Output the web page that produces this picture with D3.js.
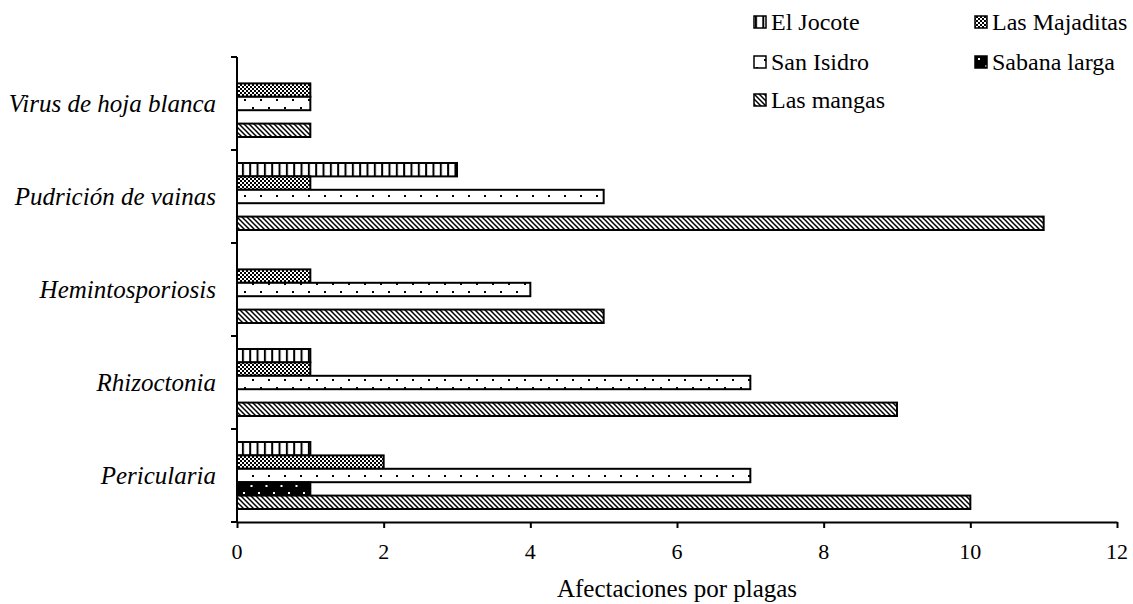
<!DOCTYPE html>
<html>
<head>
<meta charset="utf-8">
<script src="https://cdn.jsdelivr.net/npm/d3@7"></script>
<style>
  body { margin: 0; background: #fff; }
</style>
</head>
<body>
<svg id="chart" width="1133" height="604"></svg>
<script>
// categories from bottom to top, like the original
var categories = ["Pericularia", "Rhizoctonia", "Hemintosporiosis", "Pudrición de vainas", "Virus de hoja blanca"];
var seriesNames = ["El Jocote", "Las Majaditas", "San Isidro", "Sabana larga", "Las mangas"];
var elJocote     = [1, 1, 0, 3, 0];
var lasMajaditas = [2, 1, 1, 1, 1];
var sanIsidro    = [7, 7, 4, 5, 1];
var sabanaLarga  = [1, 0, 0, 0, 0];
var lasMangas    = [10, 9, 5, 11, 1];
var xTicks = [0, 2, 4, 6, 8, 10, 12];
var xTitle = "Afectaciones por plagas";

var seriesValues = [elJocote, lasMajaditas, sanIsidro, sabanaLarga, lasMangas];
var patternIds = ["p-vert", "p-check", "p-dots", "p-dark", "p-diag"];

var svg = d3.select("#chart");
var margin = { top: 57, right: 16, bottom: 82, left: 237 };
var width = 1133 - margin.left - margin.right,
    height = 604 - margin.top - margin.bottom;

// one plain text element on the svg root
function addText(str, px, py, size, anchor, italic, family) {
  var t = svg.append("text")
    .attr("x", px)
    .attr("y", py)
    .attr("text-anchor", anchor)
    .attr("font-family", family)
    .attr("font-size", size);
  if (italic) t.attr("font-style", "italic");
  t.text(str);
  return t;
}

// patterns
var defs = svg.append("defs");
var p;
p = defs.append("pattern").attr("id", "p-vert").attr("patternUnits", "userSpaceOnUse")
    .attr("width", 7.33).attr("height", 10);
p.append("rect").attr("width", 7.33).attr("height", 10).attr("fill", "#fff");
p.append("rect").attr("x", 0).attr("width", 2).attr("height", 10).attr("fill", "#000");

p = defs.append("pattern").attr("id", "p-check").attr("patternUnits", "userSpaceOnUse")
    .attr("width", 4).attr("height", 4);
p.append("rect").attr("width", 4).attr("height", 4).attr("fill", "#fff");
p.append("rect").attr("width", 2).attr("height", 2).attr("fill", "#000");
p.append("rect").attr("x", 2).attr("y", 2).attr("width", 2).attr("height", 2).attr("fill", "#000");

p = defs.append("pattern").attr("id", "p-dots").attr("patternUnits", "userSpaceOnUse")
    .attr("width", 16).attr("height", 16);
p.append("rect").attr("width", 16).attr("height", 16).attr("fill", "#fff");
p.append("rect").attr("x", 4).attr("y", 3).attr("width", 2).attr("height", 2).attr("fill", "#000");
p.append("rect").attr("x", 12).attr("y", 11).attr("width", 2).attr("height", 2).attr("fill", "#000");

p = defs.append("pattern").attr("id", "p-dark").attr("patternUnits", "userSpaceOnUse")
    .attr("width", 15).attr("height", 14);
p.append("rect").attr("width", 15).attr("height", 14).attr("fill", "#000");
p.append("rect").attr("x", 3).attr("y", 2).attr("width", 2).attr("height", 2).attr("fill", "#fff");
p.append("rect").attr("x", 10.5).attr("y", 9).attr("width", 2).attr("height", 2).attr("fill", "#fff");

p = defs.append("pattern").attr("id", "p-diag").attr("patternUnits", "userSpaceOnUse")
    .attr("width", 5).attr("height", 5);
p.append("rect").attr("width", 5).attr("height", 5).attr("fill", "#fff");
p.append("path").attr("d", "M-1,-1 L6,6 M-1,4 L1,6 M4,-1 L6,1")
    .attr("stroke", "#000").attr("stroke-width", 1.5);

// scales in page coordinates
var x = d3.scaleLinear().domain([0, 12]).range([margin.left, margin.left + width]);
var y = d3.scaleBand().domain(categories.slice().reverse()).range([margin.top, margin.top + height]);
var ySub = d3.scaleBand().domain(seriesNames).range([13, y.bandwidth() - 13]).padding(0);

var data = [];
categories.forEach(function (c, i) {
  seriesNames.forEach(function (s, j) {
    if (seriesValues[j][i] > 0) data.push({ cat: c, series: s, idx: j, value: seriesValues[j][i] });
  });
});

svg.append("g").selectAll("rect")
  .data(data)
  .enter()
  .append("rect")
  .attr("x", x(0))
  .attr("y", function (d) { return y(d.cat) + ySub(d.series); })
  .attr("width", function (d) { return x(d.value) - x(0); })
  .attr("height", ySub.bandwidth())
  .attr("fill", function (d) { return "url(#" + patternIds[d.idx] + ")"; })
  .attr("stroke", "#000")
  .attr("stroke-width", 2);

// x axis (line + ticks from d3, labels drawn as top level text)
var xAxis = svg.append("g")
  .attr("transform", "translate(0," + (margin.top + height) + ")")
  .call(d3.axisBottom(x).tickValues(xTicks).tickSize(6).tickSizeOuter(0));
xAxis.selectAll(".tick text").remove();
xAxis.select(".domain").attr("stroke-width", 2);
xAxis.selectAll(".tick line").attr("stroke-width", 2);

xTicks.forEach(function (v) {
  addText(String(v), x(v), margin.top + height + 37, 22, "middle", false, "Times New Roman");
});

// y axis with ticks at band edges
var edges = d3.range(categories.length + 1).map(function (i) { return margin.top + i * y.step(); });
var yAxis = svg.append("g");
yAxis.append("line")
  .attr("x1", x(0)).attr("x2", x(0))
  .attr("y1", margin.top).attr("y2", margin.top + height)
  .attr("stroke", "#000").attr("stroke-width", 2);
yAxis.selectAll("line")
  .data(edges, function (d) { return d; })
  .enter()
  .append("line")
  .attr("x1", x(0) - 6).attr("x2", x(0))
  .attr("y1", function (d) { return d; }).attr("y2", function (d) { return d; })
  .attr("stroke", "#000").attr("stroke-width", 2);

categories.forEach(function (c) {
  addText(c, x(0) - 21, y(c) + y.bandwidth() / 2 + 8, 25, "end", true, "Liberation Serif");
});

// x title
addText(xTitle, margin.left + width / 2, 597, 25, "middle", false, "Liberation Serif");

// legend, two columns
var legendPos = [[754, 22], [975, 22], [754, 62], [975, 62], [754, 100]];
seriesNames.forEach(function (s, i) {
  svg.append("rect")
    .attr("x", legendPos[i][0])
    .attr("y", legendPos[i][1] - 6)
    .attr("width", 12).attr("height", 12)
    .attr("fill", "url(#" + patternIds[i] + ")")
    .attr("stroke", "#000").attr("stroke-width", 1.5);
  addText(s, legendPos[i][0] + 17, legendPos[i][1] + 8, 24, "start", false, "serif");
});
</script>
</body>
</html>
